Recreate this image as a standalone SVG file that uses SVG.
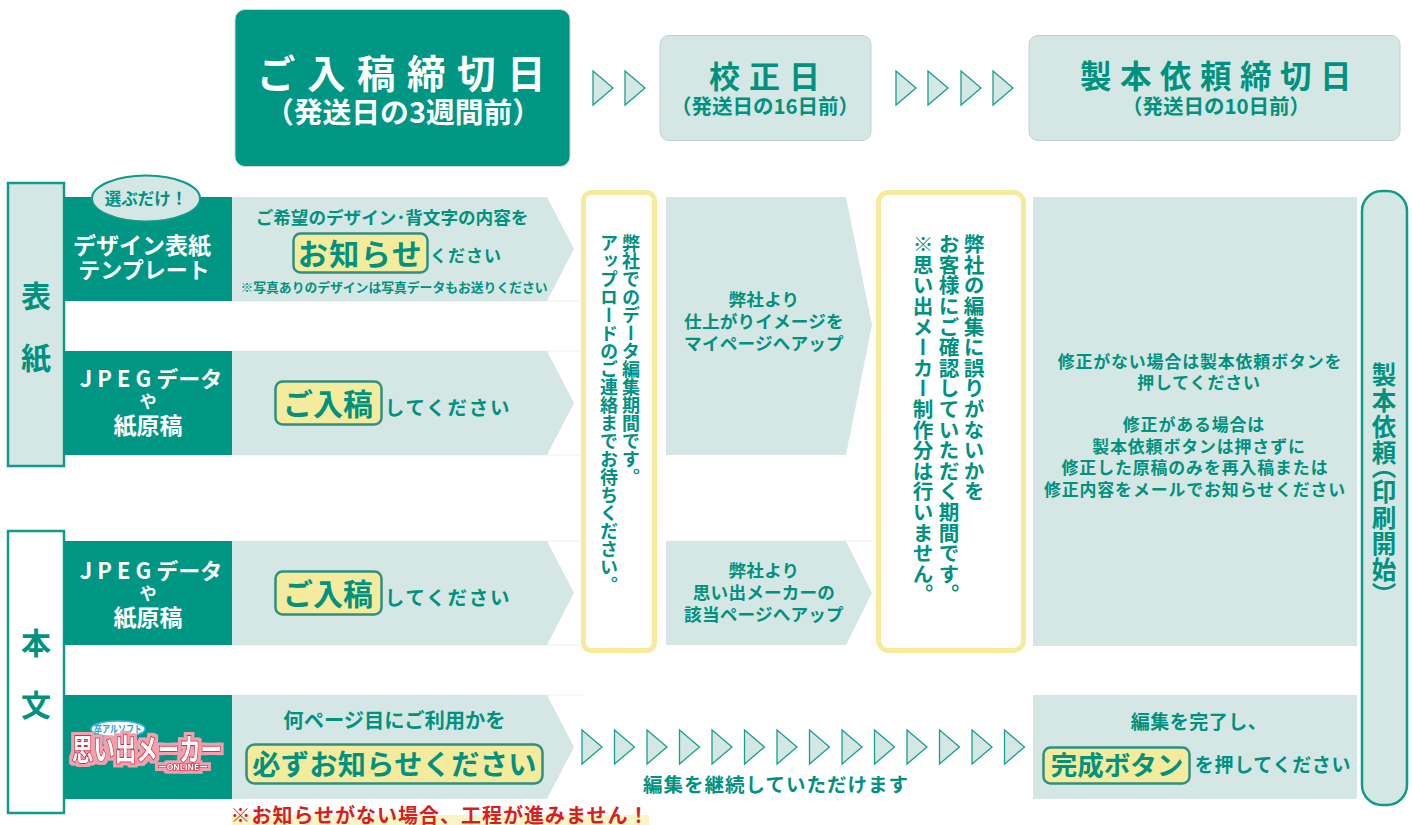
<svg xmlns="http://www.w3.org/2000/svg" width="1412" height="825" viewBox="0 0 1412 825">
<style>
text{font-family:"Noto Sans CJK JP","Noto Sans",sans-serif;fill:#00917f;text-anchor:middle;font-weight:700}
.w{fill:#fff}
.v{writing-mode:vertical-rl;text-anchor:start;font-weight:700}
.lt{fill:#d5e7e4}
.dk{fill:#009684}
.tri{fill:#d5e7e4;stroke:#17a08f;stroke-width:1.3}
.hl{fill:#f4ec9c;stroke:#2f8f80;stroke-width:2.5}
.yb{fill:#fff;stroke:#f4ec9c;stroke-width:5}
.rule{stroke:#eaf2f0;stroke-width:1}
.side{stroke:#0f9a8a;stroke-width:2.5}
</style>
<defs>
<path id="t" class="tri" d="M0 0L20 17L0 34Z"/>
<filter id="halo" x="-10%" y="-30%" width="120%" height="160%">
<feMorphology in="SourceAlpha" operator="dilate" radius="3" result="d"/>
<feFlood flood-color="#f0a0ae"/><feComposite in2="d" operator="in" result="h"/>
<feMerge><feMergeNode in="h"/><feMergeNode in="SourceGraphic"/></feMerge>
</filter>
</defs>

<g id="connectors">
<path class="rule" d="M232 301H580M232 351H580M232 455H580M232 541H580M232 645H580M232 695H584M666 541H873"/>
<use href="#t" x="593" y="71"/><use href="#t" x="625" y="71"/>
<use href="#t" x="896" y="71"/><use href="#t" x="928" y="71"/><use href="#t" x="961" y="71"/><use href="#t" x="993" y="71"/>
<use href="#t" x="582" y="730"/><use href="#t" x="614.500" y="730"/><use href="#t" x="647" y="730"/><use href="#t" x="679.500" y="730"/><use href="#t" x="712" y="730"/><use href="#t" x="744.500" y="730"/><use href="#t" x="777" y="730"/><use href="#t" x="809.500" y="730"/><use href="#t" x="842" y="730"/><use href="#t" x="874.500" y="730"/><use href="#t" x="907" y="730"/><use href="#t" x="939.500" y="730"/><use href="#t" x="972" y="730"/><use href="#t" x="1004.500" y="730"/>
<text x="776" y="792" font-size="19.500" letter-spacing="1">編集を継続していただけます</text>
</g>

<g id="header-1"><rect x="235" y="9.500" width="335" height="157" rx="10" class="dk" stroke="#cfd8d5"/>
<text class="w" x="407" y="88" font-size="38.500" letter-spacing="11.500">ご入稿締切日</text>
<text class="w" x="403" y="123" font-size="28.800" font-weight="500">（発送日の3週間前）</text></g>
<g id="header-2"><rect x="660" y="35.500" width="211" height="105" rx="9" class="lt" stroke="#c5cfcc"/>
<text x="769" y="88" font-size="31" letter-spacing="9">校正日</text>
<text x="765" y="114" font-size="20.500" font-weight="500">（発送日の16日前）</text></g>
<g id="header-3"><rect x="1029" y="35.500" width="371" height="105" rx="9" class="lt" stroke="#c5cfcc"/>
<text x="1220" y="88" font-size="31.500" letter-spacing="8.500">製本依頼締切日</text>
<text x="1216" y="114" font-size="20.500" font-weight="500">（発送日の10日前）</text></g>

<g id="side-cover"><rect x="8" y="183" width="56" height="283" class="lt side"/>
<text x="36" y="307" font-size="30">表</text><text x="36" y="369" font-size="30">紙</text></g>
<g id="side-body"><rect x="8" y="531" width="56" height="282" fill="#fff" class="side"/>
<text x="36" y="654" font-size="30">本</text><text x="36" y="716" font-size="30">文</text></g>

<g id="row-template">
<rect x="64" y="197" width="168" height="104" class="dk"/>
<ellipse cx="146" cy="198.500" rx="54" ry="23" class="lt" stroke="#0f9a8a" stroke-width="2"/>
<text x="146" y="205" font-size="16.500">選ぶだけ！</text>
<text class="w" x="142" y="254" font-size="23" font-weight="500">デザイン表紙</text>
<text class="w" x="144" y="278" font-size="22" font-weight="500">テンプレート</text>
<polygon class="lt" points="232,197 547,197 574,249 547,301 232,301"/>
<text x="392" y="224" font-size="17.600">ご希望のデザイン･背文字の内容を</text>
<rect x="293.500" y="233.500" width="134" height="39" rx="7" class="hl"/>
<text x="360.500" y="265" font-size="30" letter-spacing="1.500">お知らせ</text>
<text x="466" y="262" font-size="17" letter-spacing="1">ください</text>
<text x="394" y="292" font-size="12.800">※写真ありのデザインは写真データもお送りください</text>
</g>
<g id="row-jpeg-cover">
<rect x="64" y="351" width="168" height="104" class="dk"/>
<text class="w" x="151" y="387" font-size="22" font-weight="500"><tspan letter-spacing="5">JPEG</tspan>データ</text>
<text class="w" x="148" y="408" font-size="17" font-weight="500">や</text>
<text class="w" x="148" y="434" font-size="23" font-weight="500">紙原稿</text>
<polygon class="lt" points="232,351 547,351 574,403 547,455 232,455"/>
<rect x="275.500" y="381.500" width="106" height="43" rx="7" class="hl"/>
<text x="328" y="415" font-size="30">ご入稿</text>
<text x="448" y="415" font-size="19.500" letter-spacing="1.800">してください</text>
</g>
<g id="row-jpeg-body">
<rect x="64" y="541" width="168" height="104" class="dk"/>
<text class="w" x="151" y="579" font-size="22" font-weight="500"><tspan letter-spacing="5">JPEG</tspan>データ</text>
<text class="w" x="148" y="600" font-size="17" font-weight="500">や</text>
<text class="w" x="148" y="626" font-size="23" font-weight="500">紙原稿</text>
<polygon class="lt" points="232,541 547,541 574,593 547,645 232,645"/>
<rect x="275.500" y="571.500" width="106" height="43" rx="7" class="hl"/>
<text x="328" y="605" font-size="30">ご入稿</text>
<text x="448" y="605" font-size="19.500" letter-spacing="1.800">してください</text>
</g>
<g id="row-online">
<rect x="64" y="695" width="168" height="104" class="dk"/>
<ellipse cx="118" cy="729" rx="27" ry="8" fill="#fff" stroke="#38b6e8" stroke-width="1.500"/>
<text x="118" y="733" font-size="10" textLength="48" lengthAdjust="spacingAndGlyphs" style="fill:#2a9fd8" font-weight="500">卒アルソフト</text>
<g filter="url(#halo)">
<text x="147" y="760" font-size="30" textLength="150" lengthAdjust="spacingAndGlyphs" style="fill:#fff;stroke:#d92a3f;stroke-width:2;paint-order:stroke" font-weight="900">思い出メーカー</text>
<text x="183" y="770" font-size="8" textLength="50" lengthAdjust="spacingAndGlyphs" style="fill:#fff;stroke:#d92a3f;stroke-width:1.500;paint-order:stroke">ーONLINEー</text>
</g>
<polygon class="lt" points="232,695 547,695 574,747 547,799 232,799"/>
<text x="394.500" y="728" font-size="20.300" font-weight="500">何ページ目にご利用かを</text>
<rect x="246.500" y="744.500" width="296" height="39" rx="8" class="hl"/>
<text x="394.500" y="775" font-size="28.200" letter-spacing="0.300" font-weight="500">必ずお知らせください</text>
</g>
<g id="warning">
<rect x="232" y="815" width="417" height="10" fill="#f9f5c8"/>
<text x="440" y="823" font-size="20" letter-spacing="1" style="fill:#d81e1e">※お知らせがない場合、工程が進みません！</text>
</g>

<g id="edit-period"><rect x="583.500" y="192.500" width="71" height="458" rx="8" class="yb"/>
<text class="v" x="631" y="234" font-size="18">弊社でのデータ編集期間です。</text>
<text class="v" x="609" y="234" font-size="18">アップロードのご連絡までお待ちください。</text></g>
<g id="proof-upload"><polygon class="lt" points="666,197 846,197 872,325 846,455 666,455"/>
<text x="764" y="306" font-size="17.600" font-weight="500" letter-spacing="0.200">弊社より</text>
<text x="764" y="328" font-size="17.600" font-weight="500" letter-spacing="0.200">仕上がりイメージを</text>
<text x="764" y="350" font-size="17.600" font-weight="500" letter-spacing="0.200">マイページへアップ</text></g>
<g id="maker-upload"><polygon class="lt" points="666,541 846,541 872,593 846,645 666,645"/>
<text x="764" y="577" font-size="17.600" font-weight="500" letter-spacing="0.200">弊社より</text>
<text x="764" y="599" font-size="17.600" font-weight="500" letter-spacing="0.200">思い出メーカーの</text>
<text x="764" y="621" font-size="17.600" font-weight="500" letter-spacing="0.200">該当ページへアップ</text></g>
<g id="confirm-period"><rect x="878.500" y="192.500" width="145" height="458" rx="10" class="yb"/>
<text class="v" x="974" y="234" font-size="20.600">弊社の編集に誤りがないかを</text>
<text class="v" x="949" y="234" font-size="20.600">お客様にご確認していただく期間です。</text>
<text class="v" x="923" y="234" font-size="20.600">※思い出メーカー制作分は行いません。</text></g>
<g id="fix-box"><rect x="1033" y="197" width="324" height="449" class="lt"/>
<g font-size="16.900" font-weight="500" letter-spacing="0.900">
<text x="1200" y="368">修正がない場合は製本依頼ボタンを</text>
<text x="1199" y="389">押してください</text>
<text x="1194" y="431">修正がある場合は</text>
<text x="1199" y="453">製本依頼ボタンは押さずに</text>
<text x="1195" y="474">修正した原稿のみを再入稿または</text>
<text x="1195" y="496">修正内容をメールでお知らせください</text>
</g></g>
<g id="complete-box"><rect x="1033" y="695" width="324" height="104" class="lt"/>
<text x="1199" y="729" font-size="19" font-weight="500" letter-spacing="0.500">編集を完了し、</text>
<rect x="1043.500" y="747.500" width="146" height="36" rx="7" class="hl"/>
<text x="1117" y="775" font-size="26.500">完成ボタン</text>
<text x="1273" y="772" font-size="19" font-weight="500" letter-spacing="0.700">を押してください</text></g>
<g id="print"><rect x="1362" y="191" width="45" height="614" rx="20" class="lt" stroke="#0f9a8a" stroke-width="2.500"/>
<text class="v" x="1384" y="362" font-size="24.500" letter-spacing="1.500" style="font-feature-settings:'vpal'">製本依頼（印刷開始）</text></g>
</svg>
